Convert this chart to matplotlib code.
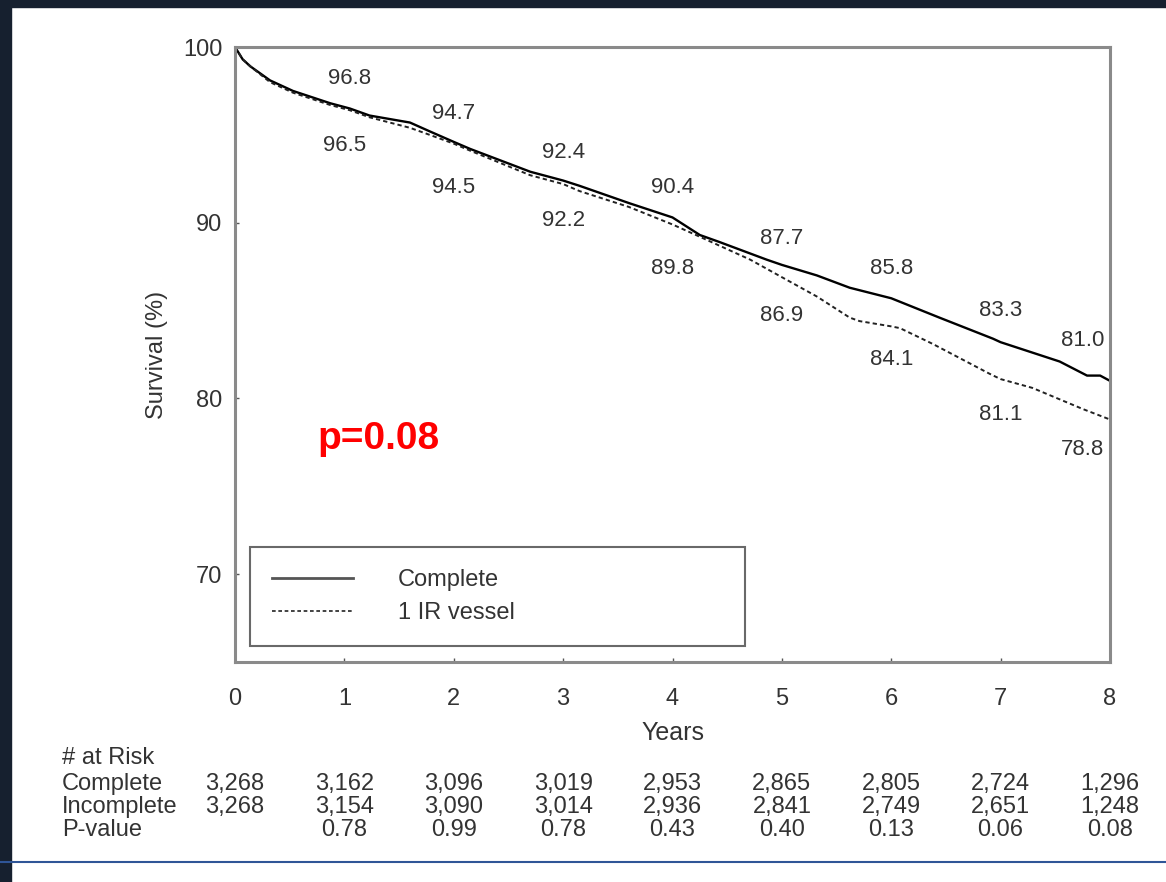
#!/usr/bin/env python3
"""Curvas de supervivencia Kaplan-Meier: revascularización completa vs 1 vaso IR,
con tabla de pacientes en riesgo bajo el eje."""

import matplotlib
matplotlib.use("Agg")
import matplotlib.pyplot as plt
from matplotlib.patches import Rectangle
from matplotlib.lines import Line2D

plt.rcParams["font.family"] = ["Liberation Sans", "DejaVu Sans"]

# curvas (años, % supervivencia)
complete_t = [0, 0.07, 0.14, 0.32, 0.53, 0.87, 1.05, 1.23, 1.6, 1.78, 2.0, 2.15, 2.7, 3.0,
              3.15, 3.61, 4.0, 4.25, 4.43, 4.86, 5.0, 5.32, 5.62, 6.0, 6.44, 6.93, 7.0,
              7.54, 7.79, 7.91, 8.0]
complete_s = [100, 99.3, 98.9, 98.1, 97.5, 96.8, 96.5, 96.1, 95.7, 95.2, 94.6, 94.2, 92.9,
              92.4, 92.1, 91.1, 90.3, 89.3, 88.9, 87.9, 87.6, 87.0, 86.3, 85.7, 84.6, 83.4,
              83.2, 82.1, 81.3, 81.3, 81.0]
incomplete_t = [0, 0.07, 0.14, 0.32, 0.53, 0.87, 1.05, 1.23, 1.6, 1.78, 2.0, 2.15, 2.7, 3.0,
                3.15, 3.6, 4.0, 4.25, 4.71, 5.0, 5.32, 5.62, 5.71, 6.0, 6.08, 6.38, 6.9, 7.0,
                7.29, 7.75, 8.0]
incomplete_s = [100, 99.3, 98.9, 98.0, 97.4, 96.7, 96.4, 96.0, 95.4, 95.0, 94.5, 94.1, 92.7,
                92.2, 91.8, 90.9, 89.9, 89.2, 87.9, 86.9, 85.8, 84.6, 84.4, 84.1, 84.0, 83.1,
                81.4, 81.1, 80.6, 79.4, 78.8]

years = [1, 2, 3, 4, 5, 6, 7, 8]
complete_lbl = [96.8, 94.7, 92.4, 90.4, 87.7, 85.8, 83.3, 81.0]
incomplete_lbl = [96.5, 94.5, 92.2, 89.8, 86.9, 84.1, 81.1, 78.8]

risk_years = [0, 1, 2, 3, 4, 5, 6, 7, 8]
risk_complete = ["3,268", "3,162", "3,096", "3,019", "2,953", "2,865", "2,805", "2,724", "1,296"]
risk_incomplete = ["3,268", "3,154", "3,090", "3,014", "2,936", "2,841", "2,749", "2,651", "1,248"]
p_values = ["", "0.78", "0.99", "0.78", "0.43", "0.40", "0.13", "0.06", "0.08"]

# posición de las etiquetas (desplazamiento en x y en % respecto a la curva)
up_off = [(0.05, 1.4), (0.0, 1.5), (0.0, 1.6), (0.0, 1.6), (0.0, 1.4), (0.0, 1.6), (0.0, 1.7), (-0.25, 2.3)]
dn_off = [(0.0, -2.1), (0.0, -2.5), (0.0, -2.1), (0.0, -2.4), (0.0, -2.2), (0.0, -1.9), (0.0, -2.0), (-0.25, -1.7)]

GREY = "#333333"

fig = plt.figure(figsize=(11.66, 8.82), dpi=100)
ax = fig.add_axes([235 / 1166, 1 - 662 / 882, 875 / 1166, 615 / 882])

ax.plot(complete_t, complete_s, color="black", lw=1.7, label="Complete")
ax.plot(incomplete_t, incomplete_s, color="#222222", lw=1.4, ls=(0, (2.2, 1.6)),
        label="1 IR vessel")

for x, v, (dx, dy) in zip(years, complete_lbl, up_off):
    ax.text(x + dx, v + dy, f"{v:.1f}", ha="center", va="center", fontsize=16, color=GREY)
for x, v, (dx, dy) in zip(years, incomplete_lbl, dn_off):
    ax.text(x + dx, v + dy, f"{v:.1f}", ha="center", va="center", fontsize=16, color=GREY)

ax.text(0.75, 77.7, "p=0.08", color="red", fontsize=28, fontweight="bold", va="center")

ax.set_xlim(0, 8)
ax.set_ylim(65, 100)
ax.set_xticks(range(0, 9))
ax.set_yticks([70, 80, 90, 100])
ax.tick_params(direction="in", length=3, width=1, colors="#555555", labelcolor=GREY,
               labelsize=17)
ax.tick_params(axis="x", pad=19)
ax.tick_params(axis="y", pad=9)
for sp in ax.spines.values():
    sp.set_color("#8a8a8a")
    sp.set_linewidth(2.2)
ax.set_xlabel("Years", fontsize=18, color=GREY, labelpad=8)
ax.set_ylabel("Survival (%)", fontsize=17, color=GREY, labelpad=11)

handles = [Line2D([], [], color="#555555", lw=2),
           Line2D([], [], color="#222222", lw=1.2, ls=(0, (2.2, 1.6)))]
leg = ax.legend(handles, ["Complete", "1 IR vessel"], loc="upper left",
                bbox_to_anchor=(15 / 875, 115 / 615, 495 / 875, 0.0), mode="expand",
                fontsize=17, frameon=True, fancybox=False, borderpad=0.95,
                handlelength=3.4, handletextpad=1.9, labelspacing=0.45, borderaxespad=0)
leg.get_frame().set_edgecolor("#444444")
leg.get_frame().set_linewidth(1.5)
for t in leg.get_texts():
    t.set_color(GREY)

# tabla de pacientes en riesgo
trans = matplotlib.transforms.blended_transform_factory(ax.transData, fig.transFigure)
rows_y = [1 - 784 / 882, 1 - 807 / 882, 1 - 830 / 882]
fig.text(62 / 1166, 1 - 758 / 882, "# at Risk", fontsize=17, color=GREY, va="center")
for lbl, yy in zip(["Complete", "Incomplete", "P-value"], rows_y):
    fig.text(62 / 1166, yy, lbl, fontsize=17, color=GREY, va="center")
for row, yy in zip([risk_complete, risk_incomplete, p_values], rows_y):
    for x, s in zip(risk_years, row):
        ax.text(x, yy, s, transform=trans, ha="center", va="center", fontsize=17,
                color=GREY, clip_on=False)

# marco oscuro y línea azul de la diapositiva
fig.patches.append(Rectangle((0, 1 - 7 / 882), 1, 7 / 882, transform=fig.transFigure,
                             color="#16202f", zorder=0))
fig.patches.append(Rectangle((0, 0), 11 / 1166, 1, transform=fig.transFigure,
                             color="#16202f", zorder=0))
fig.add_artist(Line2D([0, 1], [1 - 862 / 882] * 2, transform=fig.transFigure,
                      color="#2f5597", lw=1.5))

fig.savefig("out.png", dpi=100)
